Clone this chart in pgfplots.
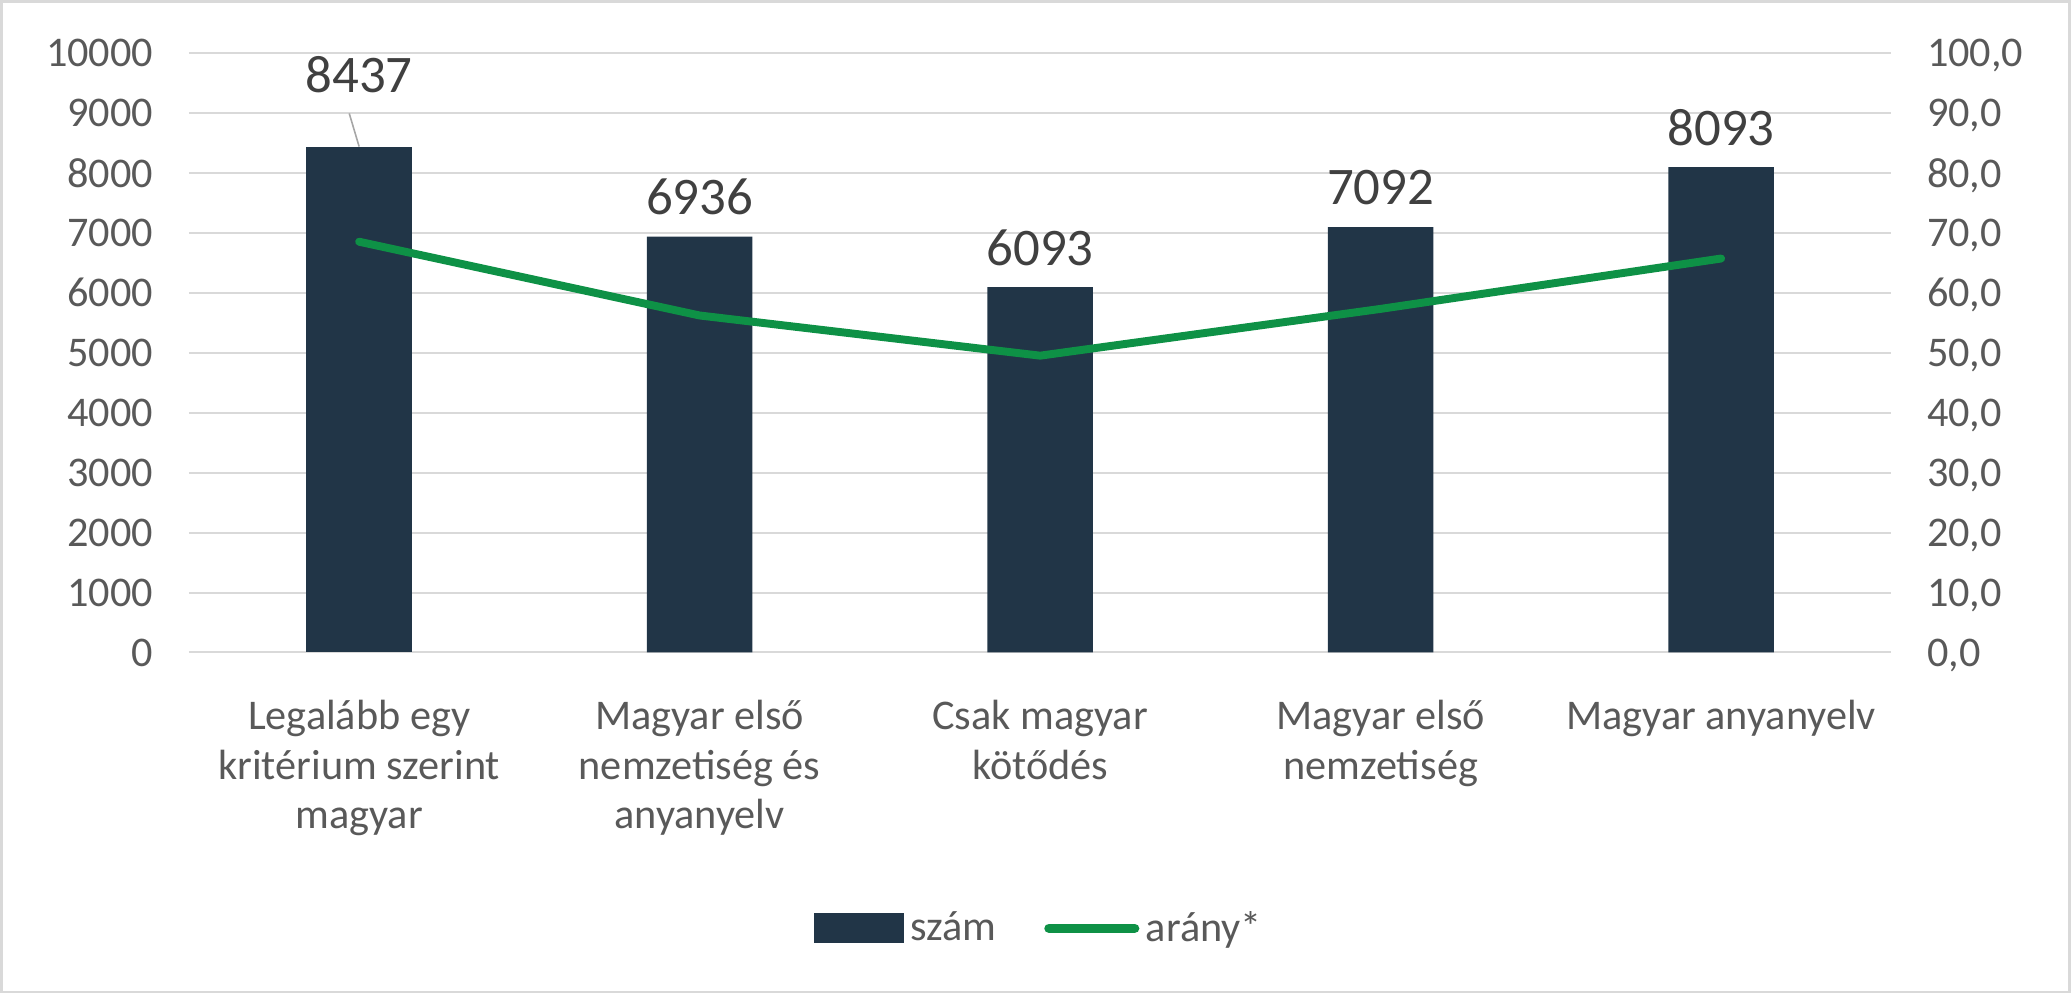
\documentclass[border=0pt]{standalone}
\usepackage{pgfplots}
\pgfplotsset{compat=1.18}
\usepackage{fontspec}
\setmainfont{Carlito}
\definecolor{barcol}{HTML}{213547}
\definecolor{linecol}{HTML}{0E9146}
\definecolor{gridcol}{HTML}{D9D9D9}
\definecolor{tickcol}{HTML}{595959}
\definecolor{labcol}{HTML}{404040}
\begin{document}
\begin{tikzpicture}
\path (0,0) rectangle (784pt,376pt);
\draw[gridcol, line width=1pt] (0.5pt,0.5pt) rectangle (783.5pt,375.5pt);
\begin{axis}[
  at={(71.5pt,129pt)}, anchor=south west,
  scale only axis, width=644.5pt, height=227pt,
  xmin=-0.5, xmax=4.5, ymin=0, ymax=10000,
  ytick={0,1000,...,10000},
  scaled y ticks=false,
  xtick={0,1,2,3,4},
  xticklabels={{Legalább egy\\kritérium szerint\\magyar},{Magyar első\\nemzetiség és\\anyanyelv},{Csak magyar\\kötődés},{Magyar első\\nemzetiség},{Magyar anyanyelv}},
  axis line style={draw=none},
  major tick length=0pt,
  ymajorgrids, grid style={gridcol, line width=0.75pt},
  /pgf/number format/.cd, fixed, 1000 sep={}, assume math mode=true,
  /pgfplots/.cd,
  yticklabel style={font=\fontsize{16}{19}\selectfont, color=tickcol, xshift=-10pt},
  xticklabel style={font=\fontsize{16}{18.75}\selectfont, color=tickcol, align=center, anchor=north, inner sep=0pt, yshift=-18pt},
  ybar, bar width=40pt, bar shift=0pt,
  clip=false,
]
\addplot[fill=barcol, draw=none] coordinates {(0,8437)};
\addplot[fill=barcol, draw=none,
  nodes near coords,
  every node near coord/.append style={font=\fontsize{20}{24}\selectfont, color=labcol, anchor=center, yshift=15pt},
] coordinates {(1,6936) (2,6093) (3,7092) (4,8093)};
\node[font=\fontsize{20}{24}\selectfont, color=labcol] at (axis cs:0,9640) {8437};
\draw[color=gray!70, line width=0.6pt] (axis cs:-0.029,8990) -- (axis cs:0,8437);
\end{axis}
\begin{axis}[
  at={(71.5pt,129pt)}, anchor=south west,
  scale only axis, width=644.5pt, height=227pt,
  xmin=-0.5, xmax=4.5, ymin=0, ymax=100,
  ytick={0,10,...,100},
  axis y line*=right, hide x axis,
  axis line style={draw=none},
  major tick length=0pt,
  /pgf/number format/.cd, fixed, fixed zerofill, precision=1, use comma, assume math mode=true,
  /pgfplots/.cd,
  yticklabel style={font=\fontsize{16}{19}\selectfont, color=tickcol, xshift=10pt, text depth=0pt},
  legend style={at={(0.5008,-0.460)}, anchor=center, draw=none, fill=none,
    font=\fontsize{16}{19}\selectfont, text=tickcol,
    legend columns=2, inner sep=0pt,
    /tikz/every even column/.append style={column sep=15.5pt},
    nodes={inner sep=2.5pt}},
  clip=false,
]
\addlegendimage{legend image code/.code={\fill[barcol] (0pt,-5.5pt) rectangle (33.5pt,5.5pt);}}
\addlegendentry{szám}
\addplot[color=linecol, line width=3pt, line cap=round, line join=round, mark=none,
  legend image code/.code={\draw[linecol, line width=3.6pt, line cap=round] (1.8pt,0pt) -- (34.2pt,0pt);}]
  coordinates {(0,68.5) (1,56.2) (2,49.5) (3,57.3) (4,65.7)};
\addlegendentry{arány*}
\end{axis}
\end{tikzpicture}
\end{document}
